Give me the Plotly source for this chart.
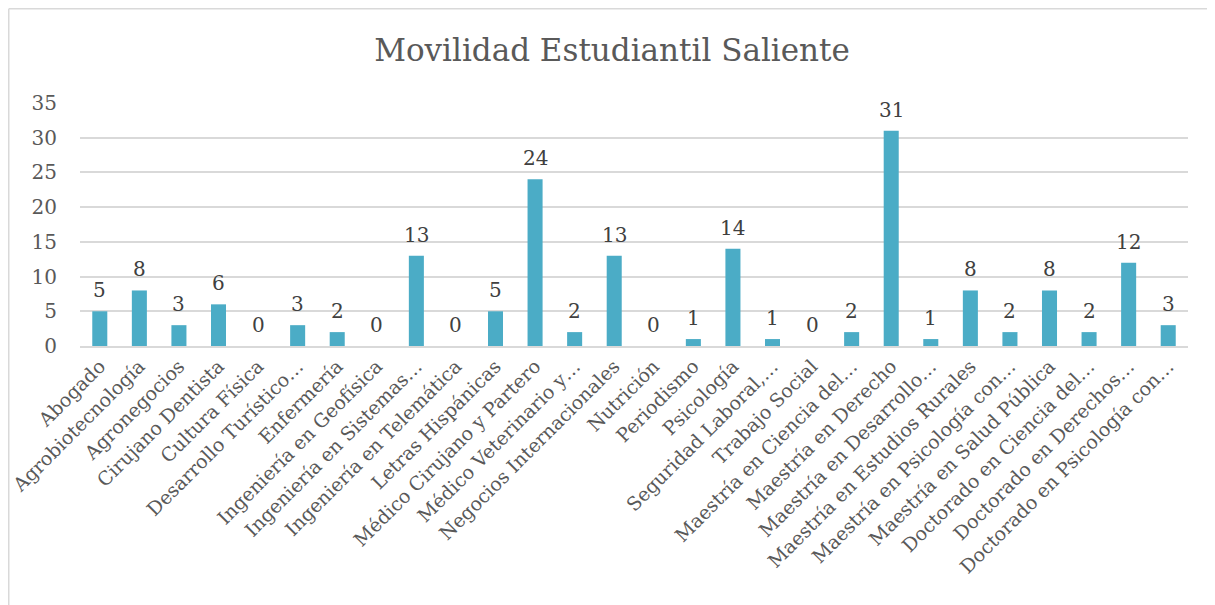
import plotly.graph_objects as go

programas = [
    "Abogado", "Agrobiotecnología", "Agronegocios", "Cirujano Dentista",
    "Cultura Física", "Desarrollo Turístico…", "Enfermería",
    "Ingeniería en Geofísica", "Ingeniería en Sistemas…",
    "Ingeniería en Telemática", "Letras Hispánicas",
    "Médico Cirujano y Partero", "Médico Veterinario y…",
    "Negocios Internacionales", "Nutrición", "Periodismo", "Psicología",
    "Seguridad Laboral,…", "Trabajo Social", "Maestría en Ciencia del…",
    "Maestría en Derecho", "Maestría en Desarrollo…",
    "Maestría en Estudios Rurales", "Maestría en Psicología con…",
    "Maestría en Salud Pública", "Doctorado en Ciencia del…",
    "Doctorado en Derechos…", "Doctorado en Psicología con…",
]
estudiantes = [5, 8, 3, 6, 0, 3, 2, 0, 13, 0, 5, 24, 2, 13, 0, 1, 14, 1, 0,
               2, 31, 1, 8, 2, 8, 2, 12, 3]
y_ticks = [0, 5, 10, 15, 20, 25, 30, 35]

# the page adds an 8px body margin, so the figure is 16px smaller than the window
W, H = 1207, 597
L, R, T, B = 72, 27, 95, 259
FONT = "DejaVu Serif"
GRIS = "#595959"

fig = go.Figure()
fig.add_trace(go.Bar(
    x=programas, y=estudiantes,
    marker={"color": "#4BACC6", "line": {"width": 0}},
    width=0.38,
))

# etiquetas de datos encima de cada barra
for prog, val in zip(programas, estudiantes):
    fig.add_annotation(x=prog, y=val, text=str(val), showarrow=False,
                       yanchor="bottom", yshift=7,
                       font={"family": FONT, "size": 20, "color": "#404040"})

# marco gris (solo borde superior e izquierdo visibles)
pw, ph = W - L - R, H - T - B
x_izq = (0.75 - L) / pw
y_sup = 1 + (T - 0.75) / ph
fig.add_shape(type="line", xref="paper", yref="paper",
              x0=x_izq, x1=1 + R / pw, y0=y_sup, y1=y_sup,
              line={"color": "#d9d9d9", "width": 1.5}, layer="below")
fig.add_shape(type="line", xref="paper", yref="paper",
              x0=x_izq, x1=x_izq, y0=y_sup, y1=-B / ph,
              line={"color": "#d9d9d9", "width": 1.5}, layer="below")

fig.update_layout(
    width=W, height=H,
    margin={"l": L, "r": R, "t": T, "b": B, "autoexpand": False},
    paper_bgcolor="white", plot_bgcolor="white",
    title={"text": "Movilidad Estudiantil Saliente", "x": 604 / W, "xanchor": "center",
           "y": 1 - 42 / H, "yanchor": "middle",
           "font": {"family": FONT, "size": 31, "color": GRIS}},
    showlegend=False,
)
fig.update_xaxes(tickangle=-45, showgrid=False, showline=True, linecolor="#d9d9d9",
                 linewidth=1.5, ticks="", automargin=False,
                 tickfont={"family": FONT, "size": 19, "color": GRIS})
fig.update_yaxes(range=[0, 35], tickvals=y_ticks, showgrid=True, gridcolor="#d9d9d9",
                 gridwidth=1.5, zeroline=False, ticks="", ticklabelstandoff=22,
                 automargin=False,
                 tickfont={"family": FONT, "size": 20, "color": GRIS})

fig.write_html("out.html")
